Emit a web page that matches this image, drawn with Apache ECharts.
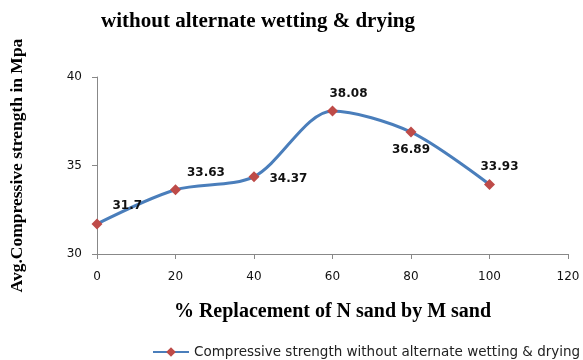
<!DOCTYPE html>
<html><head><meta charset="utf-8">
<script src="https://cdn.jsdelivr.net/npm/echarts@6/dist/echarts.min.js"></script>
<style>html,body{margin:0;padding:0;background:#fff}#c{width:583px;height:360px}</style>
</head><body><div id="c"></div>
<script>
const xValues = [0, 20, 40, 60, 80, 100];
const strength = [31.7, 33.63, 34.37, 38.08, 36.89, 33.93];
const xTicks = [0, 20, 40, 60, 80, 100, 120];
const yTicks = [30, 35, 40];
const seriesName = 'Compressive strength without alternate wetting & drying';
const titleText = 'without alternate wetting & drying';
const labelPlacement = [
  {position: 'right', distance: 10, offset: [0, -18]},
  {position: 'right', distance: 6, offset: [0, -17]},
  {position: 'right', distance: 10, offset: [0, 2]},
  {position: 'top', distance: 6, offset: [16, 0]},
  {position: 'bottom', distance: 6, offset: [0, 0]},
  {position: 'top', distance: 6, offset: [10, 0]}
];
const chart = echarts.init(document.getElementById('c'));
chart.setOption({
  animation: false,
  title: {text: titleText, left: 253, top: 6, textAlign: 'center',
    textStyle: {fontFamily: 'Liberation Serif', fontWeight: 'bold', fontSize: 21, color: '#000'}},
  grid: {left: 95, right: 15, top: 77, bottom: 106},
  legend: {left: 147, top: 340, itemWidth: 36, itemHeight: 12, itemGap: 2, padding: [5, 0, 5, 5],
    data: [{name: seriesName}],
    textStyle: {fontFamily: 'DejaVu Sans', fontSize: 13.5, color: '#222'}},
  xAxis: {type: 'value', min: xTicks[0], max: xTicks[xTicks.length - 1], interval: 20,
    name: '% Replacement of N sand by M sand', nameLocation: 'middle', nameGap: 48,
    nameTextStyle: {fontFamily: 'Liberation Serif', fontWeight: 'bold', fontSize: 20, color: '#000'},
    axisLine: {lineStyle: {color: '#888'}}, axisTick: {length: 5, lineStyle: {color: '#888'}},
    axisLabel: {fontFamily: 'DejaVu Sans', fontSize: 12, color: '#111', margin: 17},
    splitLine: {show: false}},
  yAxis: {type: 'value', min: yTicks[0], max: yTicks[yTicks.length - 1], interval: 5,
    name: 'Avg.Compressive strength in Mpa', nameLocation: 'middle', nameGap: 71,
    nameTextStyle: {fontFamily: 'Liberation Serif', fontWeight: 'bold', fontSize: 17.5, color: '#000'},
    axisLine: {show: true, lineStyle: {color: '#888'}}, axisTick: {show: true, length: 5, lineStyle: {color: '#888'}},
    axisLabel: {fontFamily: 'DejaVu Sans', fontSize: 12, color: '#111', margin: 15},
    splitLine: {show: false}},
  series: [{
    name: seriesName, type: 'line', smooth: 0.3,
    data: xValues.map((x, i) => ({value: [x, strength[i]], label: labelPlacement[i]})),
    lineStyle: {color: '#4a7ebb', width: 3},
    itemStyle: {color: '#be4b48'},
    symbol: 'diamond', symbolSize: 11,
    label: {show: true, fontFamily: 'DejaVu Sans', fontWeight: 'bold', fontSize: 12, color: '#111',
      formatter: p => p.value[1]}
  }]
});
</script></body></html>
